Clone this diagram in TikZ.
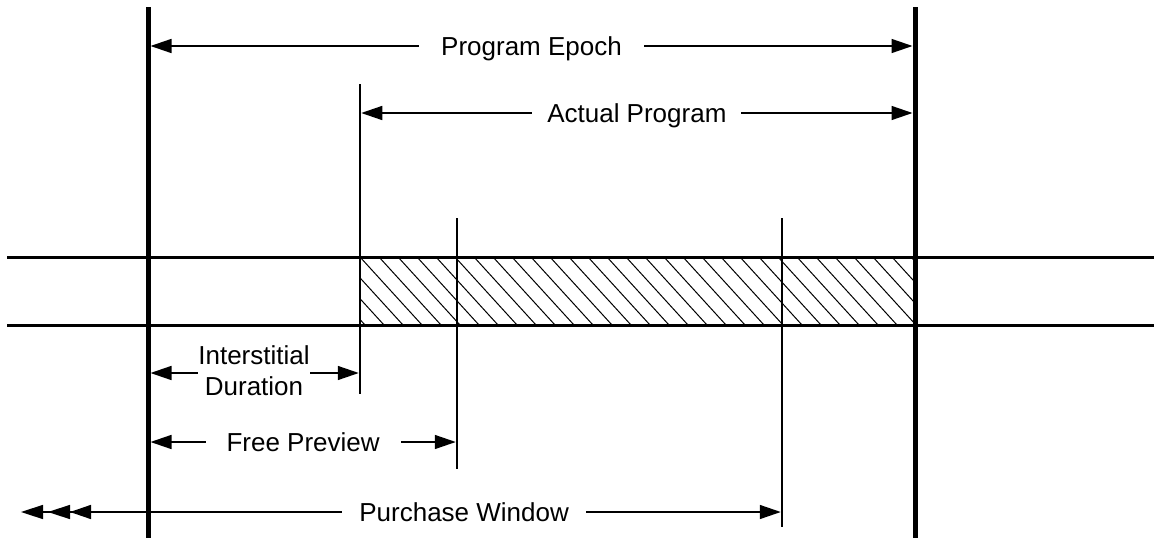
\documentclass[tikz,border=0pt]{standalone}
\usepackage{fontspec}
\setmainfont{Liberation Sans}
\usetikzlibrary{arrows.meta}
\tikzset{
  bound/.style={line width=5pt},
  marker/.style={line width=2.5pt},
  band/.style={line width=3pt},
  hatch/.style={line width=1pt},
  dim/.style={line width=1.5pt,{Triangle[length=21pt,width=14pt]}-{Triangle[length=21pt,width=14pt]}},
  dimopen/.style={line width=1.5pt,{Triangle[length=22pt,width=14pt,sep=5pt]Triangle[length=22pt,width=14pt,sep=5pt]Triangle[length=21pt,width=14pt]}-{Triangle[length=21pt,width=14pt]}},
  dimlbl/.style={fill=white,inner xsep=22pt,inner ysep=2pt,text height=19pt,text depth=0pt}
}
\begin{document}
\begin{tikzpicture}[x=1pt,y=-1pt,font=\fontsize{26}{31}\selectfont]
  \useasboundingbox (0,0) rectangle (1154,538);
  % hatched part of the band
  \begin{scope}
    \clip (360,257) rectangle (915,325);
    \foreach \x in {284,303,...,930}
      \draw[hatch] (\x,257) -- ++(62,68);
  \end{scope}
  \draw[band] (7,257) -- (1154,257);
  \draw[band] (7,325) -- (1154,325);
  % time marks
  \draw[bound] (148,7) -- (148,538);
  \draw[bound] (915,7) -- (915,538);
  \draw[marker] (360,84) -- (360,394);
  \draw[marker] (457,218) -- (457,469);
  \draw[marker] (782,218) -- (782,527);
  % arrow ends
  \coordinate (epochL) at (150.5,46);
  \coordinate (epochR) at (912.5,46);
  \coordinate (actualL) at (361.25,113);
  \coordinate (actualR) at (912.5,113);
  \coordinate (interL) at (150.5,373);
  \coordinate (interR) at (358.75,373);
  \coordinate (previewL) at (150.5,442);
  \coordinate (previewR) at (455.75,442);
  \coordinate (purchL) at (16,512);
  \coordinate (purchR) at (780.75,512);
  \draw[dim] (epochL) -- node[dimlbl] {Program Epoch} (epochR);
  \draw[dim] (actualL) -- node[dimlbl,inner xsep=15pt] {Actual Program} (actualR);
  \draw[dim] (interL) -- (interR);
  \node[fill=white,inner xsep=0pt,inner ysep=1pt,align=center] (inter) at (254,371) {Interstitial\\Duration};
  \draw[dim] (previewL) -- node[dimlbl,inner xsep=21pt] {Free Preview} (previewR);
  \draw[dimopen] (purchL) -- node[dimlbl,pos=0.586,inner xsep=17pt] {Purchase Window} (purchR);
\end{tikzpicture}
\end{document}
